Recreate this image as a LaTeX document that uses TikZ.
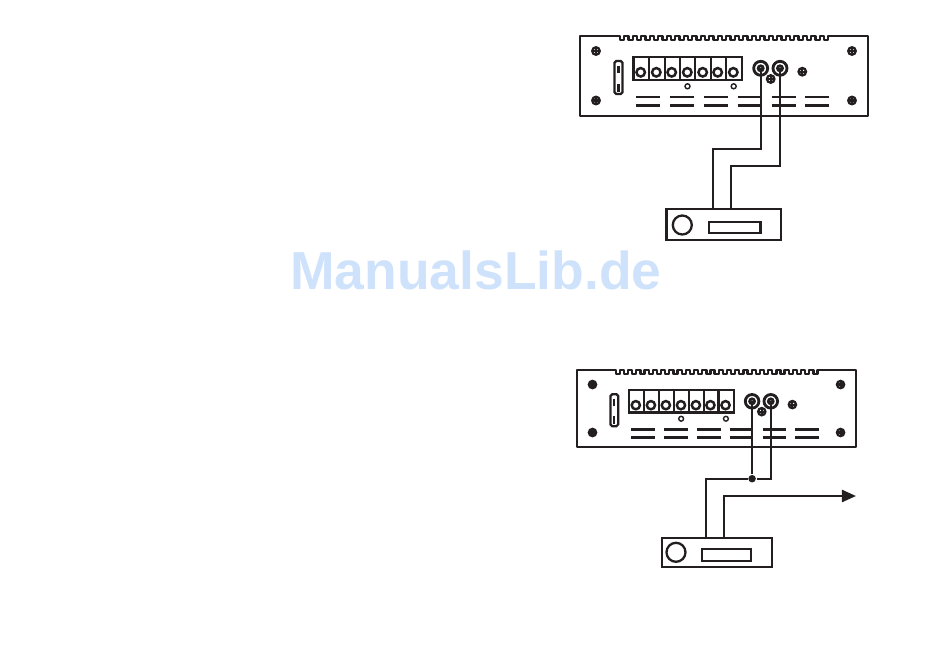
\documentclass[tikz,border=0pt]{standalone}
\usepackage{fontspec}
\setmainfont{Liberation Sans}
\usetikzlibrary{arrows.meta}
\definecolor{ink}{HTML}{231F20}
\definecolor{logoblue}{HTML}{CFE2FB}
\tikzset{
  outline/.style={draw=ink, line width=.65pt},
  wire/.style={draw=ink, line width=.65pt},
  screw/.style={circle, draw=ink, fill=white, line width=.65pt, inner sep=0pt, minimum size=.075cm, transform shape,
    path picture={\draw[ink, line width=.6pt] (path picture bounding box.west) -- (path picture bounding box.east)
      (path picture bounding box.north) -- (path picture bounding box.south);}},
  terminal/.style={circle, draw=ink, line width=.7pt, inner sep=0pt, minimum size=.085cm, transform shape},
  pin/.style={circle, draw=ink, line width=.4pt, inner sep=0pt, minimum size=.05cm, transform shape},
  jack/.style={circle, draw=ink, line width=.8pt, inner sep=0pt, minimum size=.14cm, transform shape},
  jackcore/.style={circle, draw=ink, line width=.8pt, inner sep=0pt, minimum size=.05cm, transform shape},
  vent/.style={draw=ink, line width=.85pt},
  dot/.style={circle, fill=ink, inner sep=0pt, minimum size=.075cm},
  slot/.style={draw=ink, line width=.65pt, inner sep=0pt},
  amp/.pic={
    % Body with fins
    \draw[outline, line join=round] (0,0) -- (40,0)
      foreach \n in {0,...,24} { -- ++(0,4) -- ++(4.25,0) -- ++(0,-4) -- ++(4.25,0) }
      -- (288,0) -- (288,79.7) -- (0,79.7) -- cycle;
    % Screws
    \node[screw] (-s1) at (16,15) {};
    \node[screw] (-s2) at (272,15) {};
    \node[screw] (-s3) at (16,64.5) {};
    \node[screw] (-s4) at (272,64.5) {};
    \node[screw] (-s5) at (190.7,43) {};
    \node[screw] (-s6) at (222.3,35.7) {};
    % Fuse
    \draw[outline, rounded corners=.5pt] (34.5,25) rectangle (42.5,58);
    \draw[outline] (38.5,29.5) -- (38.5,37) (38.5,47.5) -- (38.5,55.5);
    % Terminal block
    \draw[outline] (53.5,21) rectangle (161.7,44);
    \foreach \x in {69,84.7,100,115.3,130.7,146} \draw[outline] (\x,21) -- (\x,44);
    \foreach \x [count=\i] in {60.7,76.3,91.7,107.3,122.7,137.7,153.3} \node[terminal, fill=white] (-t\i) at (\x,36.3) {};
    \node[pin] (-p1) at (107.5,50.3) {};
    \node[pin] (-p2) at (153.7,50.3) {};
    % Vents
    \foreach \x in {56,90,124,157.7,191.7,225} {
      \draw[vent] (\x,61) -- ++(24.4,0);
      \draw[vent] (\x,69.3) -- ++(24.4,0);
    }
    % Jacks
    \node[jack] (-jack1) at (180.7,32.3) {};
    \node[jack] (-jack2) at (200,32.3) {};
    \node[jackcore, fill=white] at (-jack1) {};
    \node[jackcore, fill=white] at (-jack2) {};
  }
}
\begin{document}
\begin{tikzpicture}[x=.01cm, y=-.01cm]
\useasboundingbox (0,0) rectangle (950,648);
%% Amplifiers
  \pic (amptop) at (580,36) {amp};
  \pic[scale=.969] (ampbot) at (577,370) {amp};
%% Sources
  \node[outline, minimum width=1.143cm, minimum height=.307cm, inner sep=0pt] (srctop) at (723.8,224.7) {};
  \node[outline, circle, minimum size=.19cm, inner sep=0pt] (srctopknob) at (682.3,225) {};
  \node[slot, minimum width=.513cm, minimum height=.116cm] (srctopslot) at (734.7,227.5) {};
  \node[outline, minimum width=1.106cm, minimum height=.29cm, inner sep=0pt] (srcbot) at (717,552.2) {};
  \node[outline, circle, minimum size=.19cm, inner sep=0pt] (srcbotknob) at (676,552.3) {};
  \node[slot, minimum width=.493cm, minimum height=.12cm] (srcbotslot) at (726.4,555) {};
%% Wires
  \coordinate (toptap1) at (713,209.3);
  \coordinate (toptap2) at (731,209.3);
  \coordinate (bottap1) at (706,537.7);
  \coordinate (bottap2) at (724,537.7);
  \coordinate (arrowend) at (856,496);
  \node[dot] (joint) at (ampbot-jack1.center |- 0,478.7) {};
  \path[wire] (amptop-jack1.center) -- (amptop-jack1.center |- 0,148.7) -| (toptap1);
  \path[wire] (amptop-jack2.center) -- (amptop-jack2.center |- 0,165.7) -| (toptap2);
  \path[wire] (ampbot-jack1.center) -- (joint);
  \path[wire] (ampbot-jack2.center) |- (joint);
  \path[wire] (joint) -| (bottap1);
  \path[wire, -{Triangle[length=.14cm, width=.12cm]}] (bottap2) |- (arrowend);
%% Watermark
  \node[text=logoblue, font=\fontsize{15.2pt}{18pt}\bfseries, inner sep=0pt] (watermark) at (476,270.5) {ManualsLib.de};
\end{tikzpicture}
\end{document}
